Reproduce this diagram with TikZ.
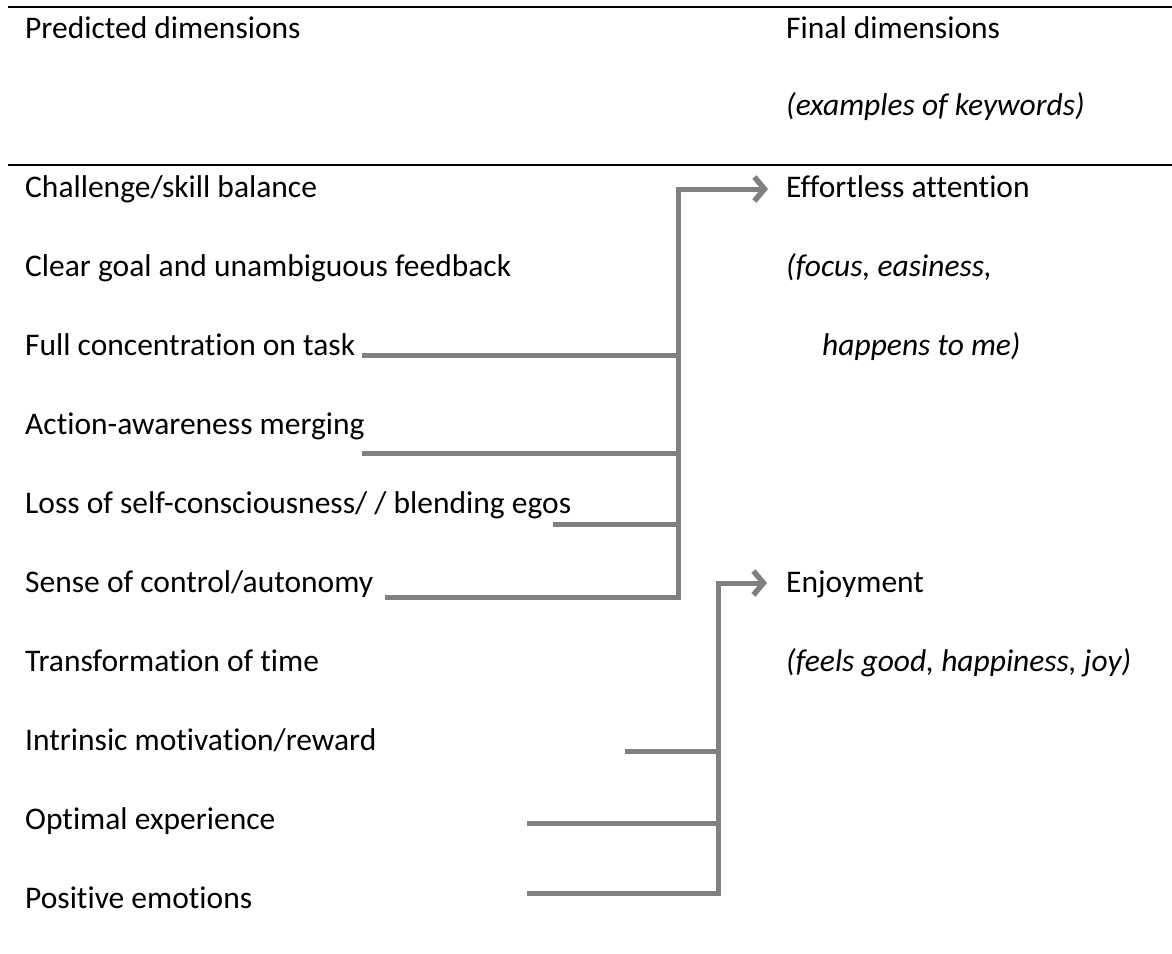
\documentclass[tikz,border=0pt]{standalone}
\usepackage{fontspec}
\setmainfont{Carlito}[Ligatures=NoCommon]
\usetikzlibrary{arrows.meta}
\definecolor{conn}{HTML}{808080}
\begin{document}
\begin{tikzpicture}[x=1pt,y=-1pt,
  txt/.style={anchor=base west,inner sep=0pt,font=\fontsize{31.5}{36}\selectfont},
  itxt/.style={txt,font=\fontsize{31.5}{36}\selectfont\itshape},
  rule/.style={line width=2.6pt,black},
  conn/.style={draw=conn,line width=5pt},
  arr/.style={conn,-{Straight Barb[length=10pt,width=24pt,line width=5.5pt]}}]
\useasboundingbox (0,0) rectangle (1172,953);
% rules
\draw[rule] (8,7) -- (1172,7);
\draw[rule] (8,165) -- (1172,165);
% headers
\node[txt] (hp) at (25,38) {Predicted dimensions};
\node[txt] (hf) at (786,38) {Final dimensions};
\node[itxt] (hk) at (786,115) {(examples of keywords)};
% left column
\node[txt] (l1) at (25,197) {Challenge/skill balance};
\node[txt] (l2) at (25,276) {Clear goal and unambiguous feedback};
\node[txt] (l3) at (25,355) {Full concentration on task};
\node[txt] (l4) at (25,434) {Action-awareness merging};
\node[txt] (l5) at (25,513) {Loss of self-consciousness/ / blending egos};
\node[txt] (l6) at (25,592) {Sense of control/autonomy};
\node[txt] (l7) at (25,671) {Transformation of time};
\node[txt] (l8) at (25,750) {Intrinsic motivation/reward};
\node[txt] (l9) at (25,829) {Optimal experience};
\node[txt] (l10) at (25,908) {Positive emotions};
% right column
\node[txt] (r1) at (786,197) {Effortless attention};
\node[itxt] (r2) at (786,276) {(focus, easiness,};
\node[itxt] (r3) at (822,355) {happens to me)};
\node[txt] (r4) at (786,592) {Enjoyment};
\node[itxt] (r5) at (786,671) {(feels good, happiness, joy)};
% connector coordinates
\coordinate (s3) at (362,355);
\coordinate (s4) at (362,453);
\coordinate (s5) at (553,524);
\coordinate (s6) at (385,597);
\coordinate (ta) at (678,189);
\coordinate (te) at (768,189);
\coordinate (s8) at (625,751);
\coordinate (s9) at (527,823);
\coordinate (s10) at (527,893);
\coordinate (ba) at (718,583);
\coordinate (be) at (767,583);
% top group
\draw[arr,line join=miter] (s6) -| (ta) -- (te);
\draw[conn] (s3) -- (s3 -| ta);
\draw[conn] (s4) -- (s4 -| ta);
\draw[conn] (s5) -- (s5 -| ta);
% bottom group
\draw[arr,line join=miter] (s10) -| (ba) -- (be);
\draw[conn] (s8) -- (s8 -| ba);
\draw[conn] (s9) -- (s9 -| ba);
\end{tikzpicture}
\end{document}
